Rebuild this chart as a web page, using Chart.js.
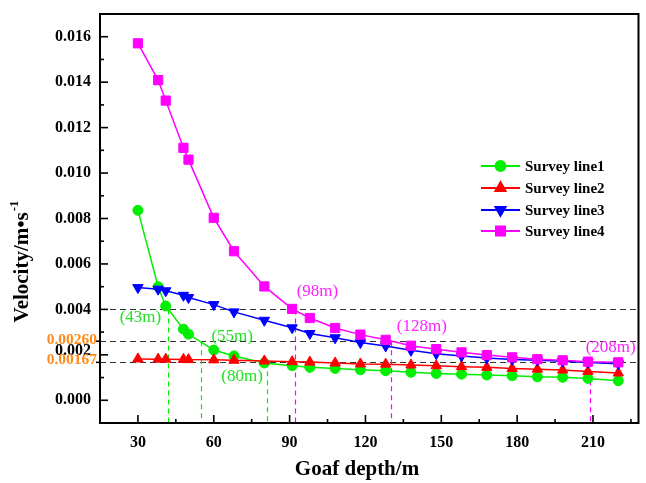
<!DOCTYPE html>
<html><head><meta charset="utf-8">
<script src="https://cdn.jsdelivr.net/npm/chart.js@4.4.0/dist/chart.umd.min.js"></script>
<style>html,body{margin:0;padding:0;background:#fff;}#wrap{width:646px;height:483px;}</style>
</head><body><div id="wrap"><canvas id="c" width="646" height="483"></canvas></div>
<script>
// ---- data ----
const depths = [30,38,41,48,50,60,68,80,91,98,108,118,128,138,148,158,168,178,188,198,208,220];
const line1 = [0.00836,0.00500,0.00415,0.00313,0.00291,0.00221,0.00195,0.00164,0.00152,0.00145,0.00140,0.00134,0.00130,0.00123,0.00118,0.00115,0.00111,0.00108,0.00103,0.00101,0.00096,0.00086];
const line2 = [0.00182,0.00181,0.00181,0.00180,0.00179,0.00178,0.00176,0.00173,0.00170,0.00168,0.00164,0.00160,0.00159,0.00155,0.00152,0.00148,0.00145,0.00140,0.00137,0.00133,0.00127,0.00120];
const line3 = [0.00496,0.00489,0.00482,0.00462,0.00452,0.00421,0.00389,0.00352,0.00319,0.00294,0.00275,0.00254,0.00239,0.00220,0.00205,0.00195,0.00186,0.00180,0.00176,0.00172,0.00166,0.00161];
const line4 = [0.01571,0.01409,0.01319,0.01111,0.01059,0.00803,0.00656,0.00501,0.00402,0.00362,0.00318,0.00289,0.00266,0.00240,0.00225,0.00211,0.00199,0.00189,0.00181,0.00176,0.00170,0.00167];
const seriesNames = ['Survey line1','Survey line2','Survey line3','Survey line4'];
const thresholds = [0.004, 0.0026, 0.00167];
const thresholdLabels = ['0.00260','0.00167'];
const greenCross = [42, 55, 81];     // depth where line1 crosses each threshold
const magentaCross = [92, 130, 209]; // depth where line4 crosses each threshold
const annotations = [
  {text:'(43m)', x:31, y:0.00363, c:'#22e022'},
  {text:'(55m)', x:67.3, y:0.00282, c:'#22e022'},
  {text:'(80m)', x:71.2, y:0.00106, c:'#22e022'},
  {text:'(98m)', x:101, y:0.00478, c:'#ff22ff'},
  {text:'(128m)', x:142.3, y:0.00326, c:'#ff22ff'},
  {text:'(208m)', x:217, y:0.00233, c:'#ff22ff'}
];

const GREEN='#00ee00', RED='#ff0000', BLUE='#0000ff', MAG='#ff00ff', ORANGE='#ff8c1a';
const FF = "'Liberation Serif','DejaVu Serif',serif";

function pts(arr){ return depths.map((d,i)=>({x:d,y:arr[i]})); }
function ds(label, arr, color, style, r, rot, order){
  return {label, data:pts(arr), borderColor:color, backgroundColor:color, borderWidth:1.5,
    pointStyle:style, pointRadius:r, pointHoverRadius:r, pointRotation:rot||0, pointBorderWidth:1,
    pointBorderColor:color, pointBackgroundColor:color, tension:0, order};
}
function noPad(s){ s.paddingTop=0; s.paddingBottom=0; s.paddingLeft=0; s.paddingRight=0; }

const overlay = {
  id:'overlay',
  beforeDatasetsDraw(chart){
    const {ctx, chartArea:a, scales:{x,y}} = chart;
    ctx.save();
    ctx.lineWidth = 1.2; ctx.strokeStyle = '#333'; ctx.setLineDash([6,4]);
    thresholds.forEach(t=>{
      const py = Math.round(y.getPixelForValue(t))+0.5;
      ctx.beginPath(); ctx.moveTo(a.left,py); ctx.lineTo(a.right,py); ctx.stroke();
    });
    ctx.setLineDash([5,4]); ctx.lineWidth = 1.2;
    const vl = (d,t,c)=>{
      const px = Math.round(x.getPixelForValue(d))+0.5;
      ctx.strokeStyle = c; ctx.beginPath();
      ctx.moveTo(px, y.getPixelForValue(t)); ctx.lineTo(px, a.bottom); ctx.stroke();
    };
    greenCross.forEach((d,i)=>vl(d,thresholds[i],GREEN));
    magentaCross.forEach((d,i)=>vl(d,thresholds[i],MAG));
    ctx.restore();
  },
  afterDraw(chart){
    const {ctx, chartArea:a, scales:{x,y}} = chart;
    ctx.save();
    ctx.setLineDash([]);
    // frame
    ctx.strokeStyle='#000'; ctx.lineWidth=2;
    ctx.strokeRect(a.left, a.top, a.right-a.left, a.bottom-a.top);
    // ticks
    ctx.lineWidth=1.6;
    for(let k=0;k<=16;k++){
      const v=k/1000, py=y.getPixelForValue(v), L=(k%2===0)?8:4;
      ctx.beginPath(); ctx.moveTo(a.left,py); ctx.lineTo(a.left+L,py); ctx.stroke();
    }
    thresholds.slice(1).forEach(t=>{const py=y.getPixelForValue(t);ctx.beginPath();ctx.moveTo(a.left-4,py);ctx.lineTo(a.left,py);ctx.stroke();});
    for(let d=30; d<=225; d+=15){
      const px=x.getPixelForValue(d), L=(d%30===0)?8:4;
      ctx.beginPath(); ctx.moveTo(px,a.bottom); ctx.lineTo(px,a.bottom-L); ctx.stroke();
    }
    // squeezed 0.002 label and orange threshold labels
    ctx.font = 'bold 16px '+FF; ctx.textAlign='right'; ctx.textBaseline='middle';
    ctx.fillStyle='#000';
    ctx.fillText('0.002', 91, y.getPixelForValue(0.002)-4);
    ctx.font = 'bold 15.5px '+FF; ctx.fillStyle=ORANGE;
    ctx.fillText(thresholdLabels[0], 97, y.getPixelForValue(thresholds[1])-1);
    ctx.fillText(thresholdLabels[1], 97, y.getPixelForValue(thresholds[2])-2);
    // annotations
    ctx.font = '17px '+FF; ctx.textAlign='center';
    annotations.forEach(n=>{ ctx.fillStyle=n.c; ctx.fillText(n.text, x.getPixelForValue(n.x), y.getPixelForValue(n.y)); });
    // legend
    const metas = chart.data.datasets;
    ctx.textAlign='left'; ctx.font='bold 15px '+FF;
    [166,188,210,231].forEach((ly,i)=>{
      const d = metas[i];
      ctx.strokeStyle=d.borderColor; ctx.lineWidth=1.8;
      ctx.beginPath(); ctx.moveTo(481,ly); ctx.lineTo(520,ly); ctx.stroke();
      ctx.fillStyle=d.backgroundColor;
      Chart.helpers.drawPoint(ctx,{pointStyle:d.pointStyle, radius:d.pointRadius, rotation:d.pointRotation, borderWidth:1}, 500.5, ly);
      ctx.fillStyle='#000'; ctx.fillText(d.label, 525, ly+1);
    });
    // axis titles
    ctx.fillStyle='#000'; ctx.textBaseline='middle'; ctx.textAlign='center';
    ctx.font='bold 21px '+FF;
    ctx.fillText('Goaf depth/m', 357, 470);
    ctx.save();
    ctx.translate(23, 262); ctx.rotate(-Math.PI/2);
    const main='Velocity/m•s', sup='-1';
    ctx.font='bold 21px '+FF; const w1=ctx.measureText(main).width;
    ctx.font='bold 13px '+FF; const w2=ctx.measureText(sup).width;
    const sx=-(w1+w2)/2;
    ctx.textAlign='left';
    ctx.font='bold 21px '+FF; ctx.fillText(main, sx, 0);
    ctx.font='bold 13px '+FF; ctx.fillText(sup, sx+w1+1, -8);
    ctx.restore();
    ctx.restore();
  }
};

new Chart(document.getElementById('c'), {
  type:'line',
  data:{ datasets:[
    ds(seriesNames[0], line1, GREEN, 'circle', 5, 0, 4),
    ds(seriesNames[1], line2, RED, 'triangle', 6, 0, 3),
    ds(seriesNames[2], line3, BLUE, 'triangle', 6, 180, 2),
    ds(seriesNames[3], line4, MAG, 'rect', 6.5, 0, 1)
  ]},
  options:{
    responsive:false, animation:false, devicePixelRatio:1,
    layout:{padding:{top:14,right:1,left:0,bottom:0}},
    plugins:{legend:{display:false}, tooltip:{enabled:false}},
    scales:{
      x:{type:'linear', min:15, max:228, offset:false,
        grid:{display:false, drawTicks:false}, border:{display:false},
        afterFit(s){ s.height=60; noPad(s); },
        ticks:{stepSize:15, autoSkip:false, maxRotation:0, padding:10, color:'#000',
          font:{family:FF, size:16, weight:'bold'},
          callback:(v)=> (v%30===0 && v<=210) ? String(v) : ''}
      },
      y:{type:'linear', min:-0.001, max:0.017,
        grid:{display:false, drawTicks:false}, border:{display:false},
        afterFit(s){ s.width=100; noPad(s); },
        ticks:{stepSize:0.001, autoSkip:false, padding:9, color:'#000',
          font:{family:FF, size:16, weight:'bold'},
          callback:(v)=>{ const k=Math.round(v*1000); return (k>=0 && k<=16 && k%2===0 && k!==2) ? (k/1000).toFixed(3) : ''; }}
      }
    }
  },
  plugins:[overlay]
});
</script></body></html>
